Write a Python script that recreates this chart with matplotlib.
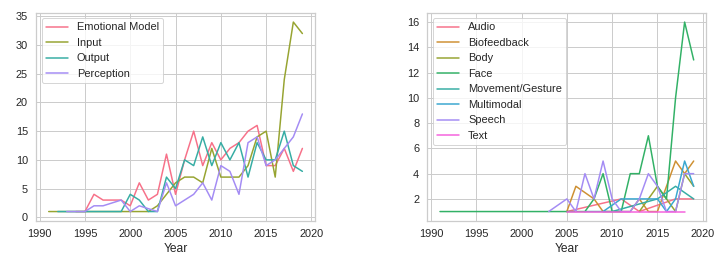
import matplotlib
matplotlib.use("Agg")
import matplotlib.pyplot as plt
import seaborn as sns

sns.set_theme(style="whitegrid")
plt.rcParams['font.family'] = ['Liberation Sans', 'DejaVu Sans']

# ---- left panel: categories per year ----
left_names = ["Emotional Model", "Input", "Output", "Perception"]
em_years = [1994, 1995, 1996, 1997, 1998, 1999, 2000, 2001, 2002, 2003, 2004, 2005, 2006,
            2007, 2008, 2009, 2010, 2011, 2012, 2013, 2014, 2015, 2016, 2017, 2018, 2019]
em_vals = [1, 1, 4, 3, 3, 3, 2, 6, 3, 4, 11, 4, 10, 15, 9, 13, 10, 12, 13, 15, 16, 9, 9, 12, 8, 12]
in_years = list(range(1991, 2020))
in_vals = [1, 1, 1, 1, 1, 1, 1, 1, 1, 1, 1, 1, 2, 4, 6, 7, 7, 6, 12, 7, 7, 7, 9, 14, 15, 7, 24, 34, 32]
out_years = list(range(1992, 2020))
out_vals = [1, 1, 1, 1, 1, 1, 1, 1, 4, 3, 1, 1, 7, 5, 10, 9, 14, 9, 13, 10, 13, 7, 13, 10, 10, 15, 9, 8]
per_years = [1993, 1994, 1995, 1996, 1997, 1999, 2000, 2001, 2003, 2004, 2005, 2006, 2007,
             2008, 2009, 2010, 2011, 2012, 2013, 2014, 2015, 2016, 2017, 2018, 2019]
per_vals = [1, 1, 1, 2, 2, 3, 1, 2, 1, 6, 2, 3, 4, 6, 3, 9, 8, 4, 13, 14, 9, 10, 12, 14, 18]

# ---- right panel: modalities per year ----
right_names = ["Audio", "Biofeedback", "Body", "Face", "Movement/Gesture",
               "Multimodal", "Speech", "Text"]
audio_years = [2005, 2011, 2013, 2017, 2018, 2019]
audio_vals = [1, 2, 1, 2, 2, 2]
bio_years = [2005, 2006, 2008, 2009, 2012, 2013, 2014, 2015, 2016, 2017, 2018, 2019]
bio_vals = [1, 3, 2, 1, 1, 2, 1, 1, 3, 5, 4, 5]
body_years = [2013, 2015, 2016, 2017, 2018, 2019]
body_vals = [1, 3, 2, 1, 4, 3]
face_years = [1991, 2007, 2008, 2009, 2010, 2011, 2012, 2013, 2014, 2015, 2016, 2017, 2018, 2019]
face_vals = [1, 1, 2, 4, 1, 1, 4, 4, 7, 3, 2, 10, 16, 13]
move_years = [2007, 2010, 2015, 2017, 2019]
move_vals = [1, 1, 2, 3, 2]
multi_years = [2009, 2011, 2012, 2013, 2014, 2015, 2016, 2017, 2018, 2019]
multi_vals = [1, 2, 2, 2, 2, 2, 1, 2, 5, 3]
speech_years = [2003, 2005, 2006, 2007, 2008, 2009, 2010, 2011, 2012, 2013, 2014, 2015,
                2016, 2017, 2018, 2019]
speech_vals = [1, 2, 1, 4, 2, 5, 2, 1, 1, 2, 4, 3, 1, 1, 4, 4]
text_years = [2005, 2008, 2011, 2014, 2018]
text_vals = [1, 1, 1, 1, 1]

left_series = [(em_years, em_vals), (in_years, in_vals), (out_years, out_vals), (per_years, per_vals)]
right_series = [(audio_years, audio_vals), (bio_years, bio_vals), (body_years, body_vals),
                (face_years, face_vals), (move_years, move_vals), (multi_years, multi_vals),
                (speech_years, speech_vals), (text_years, text_vals)]

fig = plt.figure(figsize=(723 / 72, 257 / 72), dpi=72)
ax1 = fig.add_axes([0.0498, 0.140, 0.386, 0.811])
ax2 = fig.add_axes([0.591, 0.140, 0.386, 0.811])

pal_l = sns.color_palette("husl", len(left_names))
for (xs, ys), name, c in zip(left_series, left_names, pal_l):
    ax1.plot(xs, ys, color=c, label=name, lw=1.5)

pal_r = sns.color_palette("husl", len(right_names))
for (xs, ys), name, c in zip(right_series, right_names, pal_r):
    ax2.plot(xs, ys, color=c, label=name, lw=1.5)

for ax in (ax1, ax2):
    ax.set_xlabel("Year", fontsize=12, labelpad=3.5)
    ax.set_xticks([1990, 1995, 2000, 2005, 2010, 2015, 2020])
    ax.tick_params(labelsize=11, pad=2)
    ax.legend(loc="upper left", fontsize=11)

ax1.set_yticks([0, 5, 10, 15, 20, 25, 30, 35])
ax2.set_yticks([2, 4, 6, 8, 10, 12, 14, 16])

fig.savefig("out.png", dpi=72)
